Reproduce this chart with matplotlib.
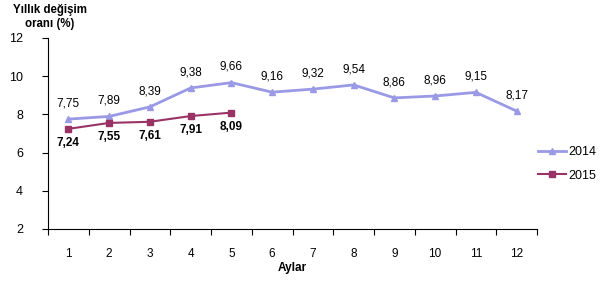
import matplotlib.pyplot as plt

plt.rcParams['font.family'] = ['Liberation Sans', 'DejaVu Sans']

# Data
months = [1, 2, 3, 4, 5, 6, 7, 8, 9, 10, 11, 12]
rate_2014 = [7.75, 7.89, 8.39, 9.38, 9.66, 9.16, 9.32, 9.54, 8.86, 8.96, 9.15, 8.17]
months_2015 = [1, 2, 3, 4, 5]
rate_2015 = [7.24, 7.55, 7.61, 7.91, 8.09]

c2014 = '#9999e6'
c2015 = '#993366'

fig = plt.figure(figsize=(6, 2.83), dpi=100)
ax = fig.add_axes([0.08, 0.191, 0.815, 0.675])

ax.plot(months, rate_2014, color=c2014, lw=2, marker='^', ms=5, label='2014')
ax.plot(months_2015, rate_2015, color=c2015, lw=1.5, marker='s', ms=5, label='2015')

def fmt(v):
    return f"{v:.2f}".replace('.', ',')

for m, v in zip(months, rate_2014):
    ax.annotate(fmt(v), (m, v), xytext=(0, 7), textcoords='offset points',
                ha='center', va='bottom', fontsize=8.5)
for m, v in zip(months_2015, rate_2015):
    ax.annotate(fmt(v), (m, v), xytext=(0, -6), textcoords='offset points',
                ha='center', va='top', fontsize=8.5, fontweight='bold')

ax.set_xlim(0.5, 12.5)
ax.set_ylim(2, 12)
ax.set_yticks([2, 4, 6, 8, 10, 12])
ax.set_yticklabels(['2', '4', '6', '8', '10', '12'], fontsize=9)
ax.set_xticks([m + 0.5 for m in [0] + months], minor=False)
ax.set_xticklabels([])
ax.set_xticks(months, minor=True)
ax.set_xticklabels([str(m) for m in months], minor=True, fontsize=8.5)
ax.tick_params(axis='x', which='major', length=4, direction='out')
ax.tick_params(axis='x', which='minor', length=0, pad=14)
ax.tick_params(axis='y', length=4, pad=14)

for s in ['top', 'right']:
    ax.spines[s].set_visible(False)

ax.set_xlabel('Aylar', fontsize=8.5, fontweight='bold', labelpad=1)
fig.text(0.083, 0.985, 'Yıllık değişim\noranı (%)', ha='center', va='top',
         fontsize=8.3, fontweight='bold')

ax.legend(loc='center left', bbox_to_anchor=(0.98, 0.34), frameon=False,
          fontsize=9, handlelength=2.2, handletextpad=0.2, labelspacing=0.9)

fig.savefig('out.png', dpi=100)
